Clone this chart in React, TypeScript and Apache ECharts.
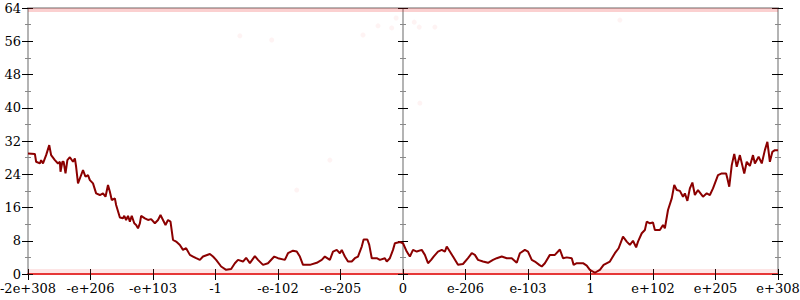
import React, { useEffect, useRef } from "react";
import * as echarts from "echarts";

const xTickLabels = ["-2e+308", "-e+206", "-e+103", "-1", "-e-102", "-e-205", "0", "e-206", "e-103", "1", "e+102", "e+205", "e+308"];
const xTickPositions = [-6, -5, -4, -3, -2, -1, 0, 1, 2, 3, 4, 5, 6];
const yMin = 0;
const yMax = 64;
const yStep = 8;

const lineX = [
  -6.0, -5.89, -5.87, -5.81, -5.79, -5.76, -5.71, -5.66, -5.63, -5.57, -5.52, -5.49, -5.48, -5.45, -5.43, -5.4, -5.37, -5.33, -5.28, -5.25,
  -5.23, -5.2, -5.16, -5.12, -5.08, -5.04, -5.01, -4.96, -4.91, -4.85, -4.8, -4.76, -4.72, -4.69, -4.66, -4.61, -4.59, -4.53, -4.48, -4.46,
  -4.43, -4.4, -4.37, -4.34, -4.3, -4.27, -4.24, -4.21, -4.19, -4.13, -4.08, -4.03, -3.97, -3.92, -3.88, -3.84, -3.8, -3.76, -3.72, -3.68,
  -3.63, -3.57, -3.52, -3.47, -3.41, -3.36, -3.31, -3.25, -3.2, -3.09, -3.04, -2.99, -2.91, -2.83, -2.75, -2.69, -2.64, -2.56, -2.51, -2.45,
  -2.37, -2.32, -2.24, -2.16, -2.06, -2.0, -1.89, -1.84, -1.76, -1.7, -1.65, -1.6, -1.49, -1.38, -1.3, -1.25, -1.17, -1.12, -1.06, -1.01,
  -0.98, -0.93, -0.88, -0.82, -0.77, -0.72, -0.66, -0.63, -0.57, -0.54, -0.5, -0.42, -0.37, -0.29, -0.26, -0.21, -0.16, -0.13, -0.05, 0.0,
  0.06, 0.11, 0.16, 0.22, 0.3, 0.35, 0.4, 0.45, 0.49, 0.56, 0.62, 0.67, 0.7, 0.75, 0.8, 0.88, 0.96, 1.04, 1.1, 1.15,
  1.2, 1.28, 1.36, 1.44, 1.5, 1.58, 1.66, 1.74, 1.82, 1.87, 1.95, 2.0, 2.06, 2.11, 2.18, 2.22, 2.27, 2.35, 2.43, 2.51,
  2.56, 2.62, 2.7, 2.73, 2.78, 2.88, 2.94, 2.99, 3.07, 3.15, 3.21, 3.31, 3.39, 3.45, 3.52, 3.58, 3.63, 3.68, 3.73, 3.76,
  3.82, 3.87, 3.9, 3.95, 4.0, 4.03, 4.11, 4.16, 4.19, 4.24, 4.3, 4.34, 4.38, 4.43, 4.48, 4.51, 4.55, 4.59, 4.63, 4.67,
  4.72, 4.8, 4.86, 4.91, 4.96, 5.04, 5.1, 5.17, 5.19, 5.22, 5.26, 5.3, 5.34, 5.39, 5.46, 5.5, 5.55, 5.6, 5.63, 5.69,
  5.74, 5.79, 5.83, 5.87, 5.91, 5.95, 6.0,
];

const lineY = [
  29.0, 28.9, 27.0, 26.6, 27.4, 26.6, 28.6, 31.0, 28.6, 27.4, 26.6, 27.0, 24.6, 27.0, 27.0, 24.2, 27.4, 28.1, 27.0, 27.8,
  25.8, 21.8, 23.4, 25.0, 23.4, 23.8, 22.6, 21.8, 19.4, 19.0, 19.4, 18.6, 21.4, 19.8, 17.8, 18.2, 16.6, 13.6, 13.4, 14.0,
  13.0, 14.0, 12.6, 14.0, 12.2, 11.8, 11.0, 12.2, 14.0, 13.4, 13.0, 13.2, 12.2, 13.0, 14.2, 13.0, 11.8, 13.0, 12.6, 8.2,
  7.8, 7.0, 5.8, 6.2, 4.6, 4.2, 3.8, 3.4, 4.2, 4.8, 4.2, 3.4, 1.8, 1.0, 1.2, 2.6, 3.4, 3.0, 3.9, 2.6,
  4.3, 3.4, 2.2, 2.6, 4.2, 3.8, 3.4, 5.0, 5.6, 5.4, 4.2, 2.2, 2.2, 2.7, 3.4, 4.2, 3.4, 5.4, 5.8, 5.0,
  5.8, 4.2, 3.0, 3.0, 3.8, 4.2, 6.6, 8.3, 8.3, 7.0, 3.8, 3.8, 3.4, 3.8, 3.0, 3.8, 5.8, 7.4, 7.7, 7.4,
  5.4, 4.2, 5.8, 5.4, 5.8, 4.6, 2.6, 3.4, 4.2, 5.4, 5.8, 5.4, 6.6, 5.4, 4.2, 2.2, 2.4, 3.8, 5.0, 4.6,
  3.4, 3.0, 2.7, 3.4, 3.8, 4.2, 3.8, 3.8, 2.7, 5.0, 5.8, 5.4, 3.4, 3.0, 2.2, 1.8, 2.6, 4.6, 4.6, 5.9,
  3.8, 4.0, 3.8, 2.2, 2.6, 2.6, 2.0, 1.0, 0.3, 1.0, 2.2, 3.0, 5.0, 6.2, 9.0, 7.8, 7.0, 8.0, 6.4, 7.8,
  9.8, 10.6, 12.6, 12.2, 12.4, 10.6, 10.6, 11.8, 11.0, 15.4, 18.2, 21.4, 20.2, 20.0, 18.6, 19.4, 17.6, 20.6, 22.0, 19.0,
  20.2, 18.6, 19.4, 19.0, 20.6, 23.8, 24.2, 24.2, 23.0, 21.0, 26.2, 28.9, 25.8, 28.6, 24.2, 27.0, 26.0, 28.6, 26.6, 28.2,
  26.6, 29.8, 31.8, 27.0, 29.4, 29.8, 29.8,
];

// faint scattered points
const scatterX = [-0.64, -0.4, -0.18, -0.11, 0.18, 0.26, 0.51, -2.1, -2.61, -1.17, -1.7, 0.27, 3.47];
const scatterY = [57.5, 59.7, 59.2, 61.6, 60.6, 59.4, 59.4, 56.3, 57.3, 27.4, 20.2, 41.1, 61.1];

// saturated bands of points at the floor and ceiling
const floorLevel = 0.5;
const ceilingLevel = 63.5;

const FONT = "DejaVu Serif";
const GRAY = "#b4b4b4";

export default function App() {
  const ref = useRef<HTMLDivElement>(null);
  useEffect(() => {
    if (!ref.current) return;
    const chart = echarts.init(ref.current, null, { renderer: "svg" });
    const xMin = xTickPositions[0];
    const xMax = xTickPositions[xTickPositions.length - 1];
    const fmt = (v: number) => {
      const i = xTickPositions.indexOf(Math.round(v));
      return i >= 0 ? xTickLabels[i] : "";
    };
    const baseY = {
      type: "value",
      min: yMin,
      max: yMax,
      interval: yStep,
      splitLine: { show: false },
      axisLabel: { show: false },
      minorTick: { show: true, splitNumber: 2, length: 3, lineStyle: { color: "#888", width: 1 } },
      minorSplitLine: { show: false },
    };
    const yAxes = [
      {
        ...baseY,
        position: "left",
        axisLine: { show: true, onZero: false, lineStyle: { color: GRAY, width: 2 } },
        axisTick: { show: true, inside: false, length: 6, lineStyle: { color: "#000", width: 1 } },
        axisLabel: { show: true, margin: 7, color: "#000", fontFamily: FONT, fontSize: 13 },
      },
      {
        ...baseY,
        position: "left",
        axisLine: { show: false, onZero: false },
        axisTick: { show: true, inside: true, length: 5, lineStyle: { color: "#000", width: 1 } },
      },
      {
        ...baseY,
        position: "right",
        axisLine: { show: true, onZero: false, lineStyle: { color: GRAY, width: 2 } },
        axisTick: { show: true, inside: false, length: 5, lineStyle: { color: "#000", width: 1 } },
      },
      {
        ...baseY,
        position: "right",
        axisLine: { show: false, onZero: false },
        axisTick: { show: true, inside: true, length: 6, lineStyle: { color: "#000", width: 1 } },
      },
      {
        ...baseY,
        position: "left",
        axisLine: { show: true, onZero: true, onZeroAxisIndex: 0, lineStyle: { color: GRAY, width: 2 } },
        axisTick: { show: true, inside: false, length: 5, lineStyle: { color: "#000", width: 1 } },
      },
      {
        ...baseY,
        position: "right",
        axisLine: { show: true, onZero: true, onZeroAxisIndex: 0, lineStyle: { color: GRAY, width: 2 } },
        axisTick: { show: true, inside: false, length: 5, lineStyle: { color: "#000", width: 1 } },
      },
    ];
    const baseX = {
      type: "value",
      min: xMin,
      max: xMax,
      interval: 1,
      splitLine: { show: false },
    };
    const xAxes = [
      {
        ...baseX,
        position: "bottom",
        axisLine: { show: true, onZero: false, lineStyle: { color: "#e53535", width: 2 } },
        axisTick: { show: true, inside: false, length: 6, lineStyle: { color: "#000", width: 1 } },
        axisLabel: { show: true, margin: 8, color: "#000", fontFamily: FONT, fontSize: 13, formatter: fmt },
      },
      {
        ...baseX,
        position: "bottom",
        axisLine: { show: false, onZero: false },
        axisTick: { show: true, inside: true, length: 5, lineStyle: { color: "#000", width: 1 } },
        axisLabel: { show: false },
      },
      {
        ...baseX,
        position: "top",
        axisLine: { show: true, onZero: false, lineStyle: { color: GRAY, width: 2 } },
        axisTick: { show: false },
        axisLabel: { show: false },
      },
    ];
    chart.setOption({
      animation: false,
      backgroundColor: "#ffffff",
      grid: { left: 28, right: 22, top: 8, bottom: 26, outerBoundsMode: "none", containLabel: false },
      xAxis: xAxes,
      yAxis: yAxes,
      series: [
        {
          type: "line",
          data: [[xMin, floorLevel], [xMax, floorLevel]],
          showSymbol: false,
          silent: true,
          lineStyle: { color: "rgba(240,70,70,0.14)", width: 6 },
          z: 1,
        },
        {
          type: "line",
          data: [[xMin, ceilingLevel], [xMax, ceilingLevel]],
          showSymbol: false,
          silent: true,
          lineStyle: { color: "rgba(235,40,40,0.22)", width: 4 },
          z: 1,
        },
        {
          type: "scatter",
          data: scatterX.map((x, i) => [x, scatterY[i]]),
          symbolSize: 5,
          silent: true,
          itemStyle: { color: "rgba(240,60,60,0.08)" },
          z: 1,
        },
        {
          type: "line",
          data: lineX.map((x, i) => [x, lineY[i]]),
          showSymbol: false,
          silent: true,
          lineStyle: { color: "#8b0000", width: 2 },
          z: 5,
        },
      ],
    });
    return () => chart.dispose();
  }, []);
  return (
    <div
      ref={ref}
      style={{ position: "absolute", left: 0, top: 0, width: 800, height: 300, background: "#fff" }}
    />
  );
}
